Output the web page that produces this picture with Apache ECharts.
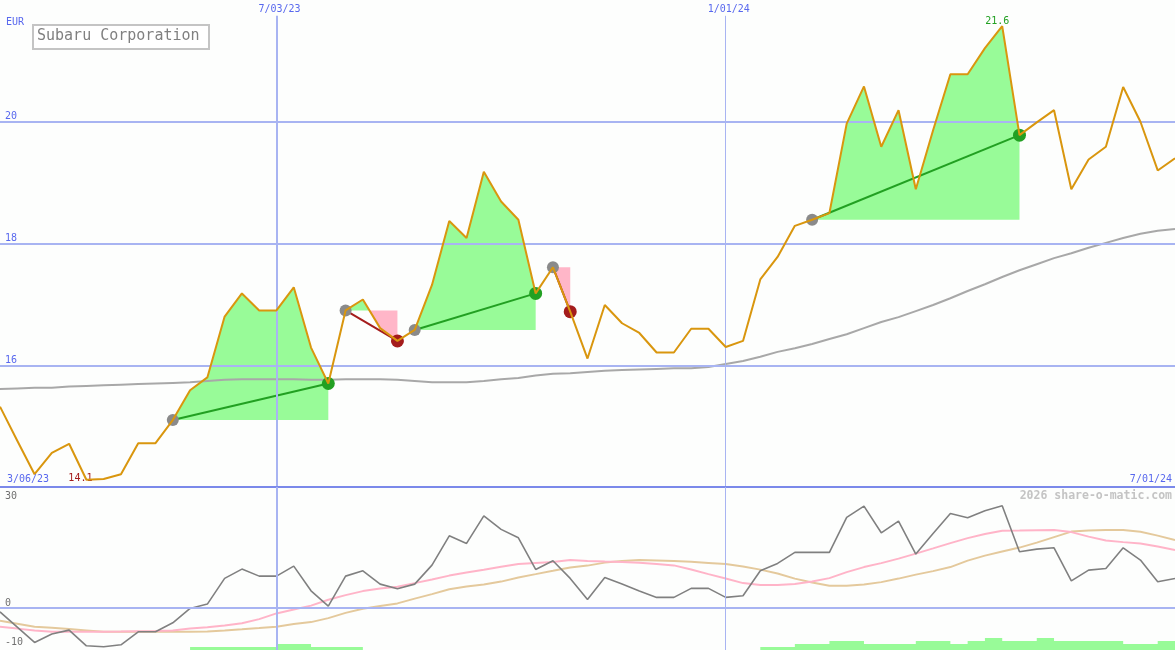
<!DOCTYPE html>
<html><head><meta charset="utf-8">
<script src="https://cdn.jsdelivr.net/npm/echarts@6/dist/echarts.min.js"></script>
<style>html,body{margin:0;padding:0;background:#fdfefd}#c{width:1175px;height:650px}</style>
</head><body><div id="c"></div><script>
// ---- data ----
var dates = ['3/13/23','3/20/23','3/27/23','4/03/23','4/10/23','4/17/23','4/24/23','5/01/23','5/08/23','5/15/23','5/22/23','5/29/23','6/05/23','6/12/23','6/19/23','6/26/23',
'7/03/23','7/10/23','7/17/23','7/24/23','7/31/23','8/07/23','8/14/23','8/21/23','8/28/23','9/04/23','9/11/23','9/18/23','9/25/23','10/02/23','10/09/23','10/16/23','10/23/23','10/30/23',
'11/06/23','11/13/23','11/20/23','11/27/23','12/04/23','12/11/23','12/18/23','12/25/23','1/01/24','1/08/24','1/15/24','1/22/24','1/29/24','2/05/24','2/12/24','2/19/24','2/26/24',
'3/04/24','3/11/24','3/18/24','3/25/24','4/01/24','4/08/24','4/15/24','4/22/24','4/29/24','5/06/24','5/13/24','5/20/24','5/27/24','6/03/24','6/10/24','6/17/24','6/24/24','7/01/24'];
var price = [15.32,14.76,14.21,14.56,14.71,14.12,14.13,14.21,14.72,14.72,15.10,15.59,15.80,16.80,17.18,16.90,16.90,17.28,16.29,15.70,
16.90,17.08,16.61,16.40,16.58,17.32,18.37,18.09,19.18,18.69,18.39,17.18,17.61,16.88,16.11,16.99,16.69,16.53,16.21,16.21,
16.60,16.60,16.30,16.40,17.41,17.78,18.29,18.39,18.50,19.97,20.58,19.59,20.19,18.89,19.86,20.78,20.78,21.21,21.57,19.78,
19.99,20.19,18.89,19.38,19.59,20.57,20.00,19.20,19.40];
var movingAvg = [15.61,15.62,15.63,15.63,15.65,15.66,15.67,15.68,15.69,15.70,15.71,15.72,15.74,15.76,15.77,15.77,15.77,15.77,15.76,15.76,
15.77,15.77,15.77,15.76,15.74,15.72,15.72,15.72,15.74,15.77,15.79,15.83,15.86,15.87,15.89,15.91,15.92,15.93,15.94,15.95,
15.95,15.97,16.02,16.07,16.14,16.22,16.28,16.35,16.43,16.51,16.61,16.71,16.79,16.89,16.99,17.10,17.22,17.33,17.45,17.56,
17.66,17.76,17.84,17.93,18.01,18.09,18.16,18.21,18.24];
var oscGrey = [-1.14,-5.27,-9.41,-7.16,-6.08,-10.32,-10.59,-10.05,-6.54,-6.54,-4.11,-0.22,0.95,7.89,10.41,8.51,8.51,11.22,4.54,0.41,
8.51,9.95,6.35,5.08,6.35,11.49,19.41,17.35,24.81,21.14,18.86,10.32,12.65,7.89,2.22,8.16,6.35,4.46,2.76,2.76,
5.19,5.19,2.76,3.19,9.95,11.95,14.92,14.92,14.92,24.38,27.43,20.22,23.38,14.46,20.05,25.46,24.27,26.16,27.51,15.08,
15.81,16.16,7.24,10.14,10.59,16.16,12.84,6.97,7.89];
var oscPink = [-5.19,-5.68,-6.22,-6.54,-6.54,-6.54,-6.54,-6.49,-6.41,-6.35,-6.16,-5.62,-5.32,-4.81,-4.24,-3.11,-1.57,-0.49,0.54,2.11,
3.38,4.46,5.14,5.62,6.62,7.62,8.65,9.46,10.22,11.03,11.76,12.03,12.30,12.84,12.57,12.43,12.30,12.11,11.76,11.41,
10.32,9.05,7.89,6.62,6.08,6.08,6.35,7.03,7.97,9.59,10.95,12.03,13.24,14.59,16.00,17.43,18.78,19.92,20.76,20.81,
20.89,20.95,20.41,19.19,18.16,17.70,17.30,16.49,15.54];
var oscTan = [-3.57,-4.38,-5.19,-5.46,-5.81,-6.16,-6.54,-6.54,-6.54,-6.54,-6.54,-6.54,-6.43,-6.16,-5.86,-5.54,-5.19,-4.46,-3.92,-2.84,
-1.43,-0.32,0.46,1.14,2.43,3.65,4.95,5.68,6.22,7.03,8.16,9.05,9.95,10.86,11.35,12.16,12.57,12.84,12.70,12.57,
12.41,12.08,11.76,11.14,10.27,9.24,7.84,6.76,5.89,5.89,6.22,6.89,7.84,8.92,9.86,10.95,12.70,14.05,15.14,16.22,
17.57,19.05,20.54,20.81,20.95,20.95,20.49,19.46,18.24];
var barLevels = [0,0,0,0,0,0,0,0,0,0,0,1,1,1,1,1,2,2,1,1,1,0,0,0,0,0,0,0,0,0,0,0,0,0,0,0,0,0,0,0,
0,0,0,0,1,1,2,2,3,3,2,2,2,3,3,2,3,4,3,3,4,3,3,3,3,2,2,3,3];
var tradeEntries = [10,20,24,32,47];
var tradeExits = [19,23,31,33,59];
var topTickLabels = ['7/03/23','1/01/24'];
var cornerLabels = ['3/06/23','7/01/24'];
var priceGridValues = [16,18,20];
var lowerTickLabels = [30,0,-10];
var titleText = 'Subaru Corporation';
var currency = 'EUR';
var watermark = '2026 share-o-matic.com';

// ---- styles ----
var MONO = 'DejaVu Sans Mono';
var BLUE = '#5868ee', GRID = '#a8b4f2', SEP = '#7b89ea';
var ORANGE = '#d9960e', FILLG = '#98fb98', FILLP = '#ffb6c8';
var TGREEN = '#22a022', TRED = '#a41c1c';

function pairs(arr){ return arr.map(function(v,i){ return [i,v]; }); }
var vIdx = topTickLabels.map(function(l){ return dates.indexOf(l); });

function fillItem(params, api){
  var e = api.value(0), ep = api.value(1), x = api.value(2);
  var yE = api.coord([e, ep])[1];
  var pts = [];
  for (var j = e; j <= x; j++){
    var P = api.coord([j, price[j]]);
    if (j > e){
      var a = price[j-1], b = price[j];
      if ((a-ep)*(b-ep) < 0){
        var Q = api.coord([j-1, a]);
        var t = (ep-a)/(b-a);
        pts.push([Q[0] + (P[0]-Q[0])*t, yE]);
      }
    }
    pts.push(P);
  }
  var x0 = pts[0][0], x1 = pts[pts.length-1][0];
  var g = [[x0,yE]].concat(pts.map(function(p){return [p[0], Math.min(p[1], yE)];})).concat([[x1,yE]]);
  var r = [[x0,yE]].concat(pts.map(function(p){return [p[0], Math.max(p[1], yE)];})).concat([[x1,yE]]);
  return {type:'group', children:[
    {type:'polygon', shape:{points:g}, style:{fill:FILLG, stroke:null}},
    {type:'polygon', shape:{points:r}, style:{fill:FILLP, stroke:null}}
  ]};
}
function tradeLineItem(params, api){
  var s = api.coord([api.value(0), api.value(1)]);
  var t = api.coord([api.value(2), api.value(3)]);
  return {type:'line', shape:{x1:s[0],y1:s[1],x2:t[0],y2:t[1]},
    style:{stroke: api.value(3) >= api.value(1) ? TGREEN : TRED, lineWidth:2}};
}

var chart = echarts.init(document.getElementById('c'), null, {renderer:'canvas'});
var vline = function(i, w){ return [{coord:[i, 21.74], lineStyle:{color:GRID, width:w, type:'solid'}}, {coord:[i, 14]}]; };
chart.setOption({
  backgroundColor: '#fdfefd',
  animation: false,
  grid: [
    {left:0, right:0, top:0, height:487, outerBoundsMode:'none', containLabel:false},
    {left:0, right:0, top:487, height:165, outerBoundsMode:'none', containLabel:false}
  ],
  xAxis: [
    {gridIndex:0, type:'value', min:0, max:dates.length-1, interval:2, position:'top',
      axisLine:{show:false}, axisTick:{show:false}, splitLine:{show:false},
      axisLabel:{inside:true, margin:4, color:BLUE, fontFamily:MONO, fontSize:10, padding:[0,0,0,6],
        formatter:function(v){ var d = dates[Math.round(v)]; return topTickLabels.indexOf(d) >= 0 ? d : ''; }}},
    {gridIndex:1, type:'value', min:0, max:dates.length-1, show:false}
  ],
  yAxis: [
    {gridIndex:0, type:'value', min:14, max:22, interval:2,
      axisLine:{show:false}, axisTick:{show:false}, splitLine:{show:false},
      axisLabel:{inside:true, margin:5, color:BLUE, fontFamily:MONO, fontSize:10, verticalAlign:'bottom',
        formatter:function(v){ return priceGridValues.indexOf(Math.round(v)) >= 0 ? String(Math.round(v)) : ''; }}},
    {gridIndex:1, type:'value', min:-12, max:32.6, interval:2,
      axisLine:{show:false}, axisTick:{show:false}, splitLine:{show:false},
      axisLabel:{inside:true, margin:5, color:'#707070', fontFamily:MONO, fontSize:10, verticalAlign:'middle', showMaxLabel:false,
        formatter:function(v){ var r = Math.round(v); if (lowerTickLabels.indexOf(r) < 0 || Math.abs(v-r) > 0.01) return '';
          return r === 0 ? '{u|0}' : (r < 0 ? '{v|' + r + '}' : '{m|' + r + '}'); },
        rich:{m:{color:'#707070', fontFamily:MONO, fontSize:10},
              u:{color:'#707070', fontFamily:MONO, fontSize:10, padding:[0,0,9,0]},
              v:{color:'#707070', fontFamily:MONO, fontSize:10, padding:[0,0,5,0]}}}},
    {gridIndex:1, type:'value', min:-0.667, max:54.333, show:false}
  ],
  series: [
    {type:'line', xAxisIndex:0, yAxisIndex:0, data:[], z:1, silent:true,
      markLine:{silent:true, symbol:['none','none'], label:{show:false}, animation:false,
        data: priceGridValues.map(function(v){ return {yAxis:v, lineStyle:{color:GRID, width:2, type:'solid'}}; })
          .concat([vline(vIdx[0], 2), vline(vIdx[1], 1)])
          .concat([{yAxis:14, lineStyle:{color:SEP, width:2, type:'solid'}}])}},
    {type:'line', xAxisIndex:1, yAxisIndex:1, data:[], z:1, silent:true,
      markLine:{silent:true, symbol:['none','none'], label:{show:false}, animation:false,
        data:[{yAxis:0, lineStyle:{color:GRID, width:2, type:'solid'}},
              {xAxis:vIdx[0], lineStyle:{color:GRID, width:2, type:'solid'}},
              {xAxis:vIdx[1], lineStyle:{color:GRID, width:1, type:'solid'}}]}},
    {type:'line', xAxisIndex:1, yAxisIndex:2, data:pairs(barLevels), step:'end', showSymbol:false, z:2, silent:true,
      lineStyle:{width:0, opacity:0}, areaStyle:{color:FILLG, opacity:1, origin:'start'}},
    {type:'custom', xAxisIndex:0, yAxisIndex:0, z:2, silent:true, renderItem:fillItem,
      data: tradeEntries.map(function(e,k){ return [e, price[e], tradeExits[k]]; }), encode:{x:0, y:1}},
    {type:'line', xAxisIndex:0, yAxisIndex:0, data:pairs(movingAvg), showSymbol:false, z:3, silent:true,
      lineStyle:{color:'#a8a8a8', width:2}},
    {type:'custom', xAxisIndex:0, yAxisIndex:0, z:4, silent:true, renderItem:tradeLineItem,
      data: tradeEntries.map(function(e,k){ var x = tradeExits[k]; return [e, price[e], x, price[x]]; }), encode:{x:0, y:1}},
    {type:'scatter', xAxisIndex:0, yAxisIndex:0, z:5, silent:true, symbolSize:12,
      itemStyle:{color:'#8a8a8a', opacity:1},
      data: tradeEntries.map(function(e){ return [e, price[e]]; })},
    {type:'scatter', xAxisIndex:0, yAxisIndex:0, z:5, silent:true, symbolSize:13,
      data: tradeEntries.map(function(e,k){ var x = tradeExits[k];
        return {value:[x, price[x]], itemStyle:{color: price[x] >= price[e] ? TGREEN : TRED, opacity:1}}; })},
    {type:'line', xAxisIndex:0, yAxisIndex:0, data:pairs(price), showSymbol:false, z:6, silent:true,
      lineStyle:{color:ORANGE, width:2},
      markPoint:{silent:true, symbol:'circle', symbolSize:0, animation:false,
        data:[
          {type:'max', label:{show:true, position:'inside', offset:[-5,-5], color:TGREEN, fontFamily:MONO, fontSize:10,
            formatter:function(p){ return p.value.toFixed(1); }}},
          {type:'min', label:{show:true, position:'inside', offset:[-6,-1], color:TRED, fontFamily:MONO, fontSize:10,
            formatter:function(p){ return p.value.toFixed(1); }}}
        ]}},
    {type:'line', xAxisIndex:1, yAxisIndex:1, data:pairs(oscTan), showSymbol:false, z:3, silent:true,
      lineStyle:{color:'#e4c99c', width:2}},
    {type:'line', xAxisIndex:1, yAxisIndex:1, data:pairs(oscPink), showSymbol:false, z:3, silent:true,
      lineStyle:{color:'#ffb4c8', width:2}},
    {type:'line', xAxisIndex:1, yAxisIndex:1, data:pairs(oscGrey), showSymbol:false, z:4, silent:true,
      lineStyle:{color:'#808080', width:1.6}}
  ],
  graphic: [
    {type:'rect', left:32, top:24, shape:{width:176, height:24}, style:{fill:'#ffffff', stroke:'#c4c4c4', lineWidth:2}, z:100},
    {type:'text', x:37, y:36, style:{text:titleText, fill:'#808080', font:'15px "' + MONO + '"', textVerticalAlign:'middle'}, z:101},
    {type:'text', x:6, y:22, style:{text:currency, fill:BLUE, font:'10px "' + MONO + '"', textVerticalAlign:'middle'}, z:101},
    {type:'text', x:7, y:479, style:{text:cornerLabels[0], fill:BLUE, font:'10px "' + MONO + '"', textVerticalAlign:'middle'}, z:101},
    {type:'text', x:1172, y:479, style:{text:cornerLabels[1], fill:BLUE, font:'10px "' + MONO + '"', textAlign:'right', textVerticalAlign:'middle'}, z:101},
    {type:'text', x:1172, y:496, style:{text:watermark, fill:'#c4c4c4', font:'bold 11.5px "' + MONO + '"', textAlign:'right', textVerticalAlign:'middle'}, z:101}
  ]
});
</script></body></html>
